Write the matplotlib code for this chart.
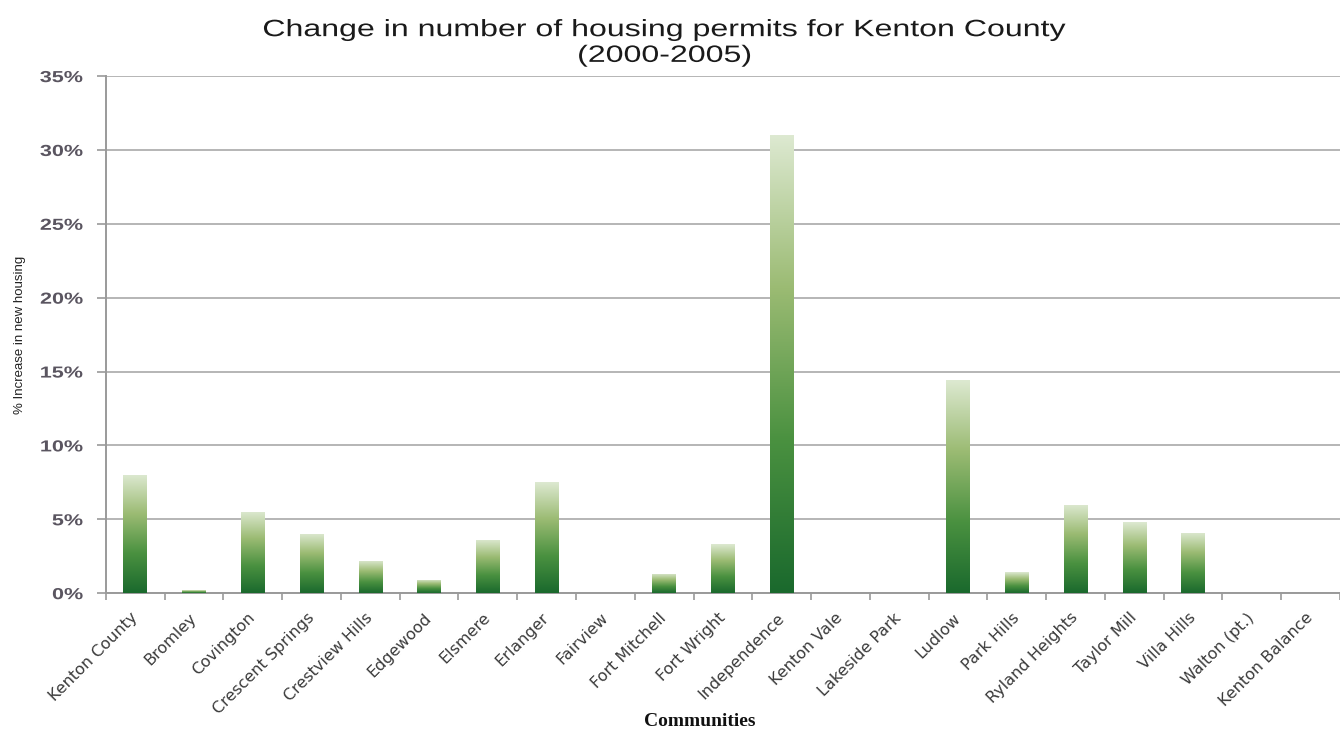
import matplotlib
matplotlib.use("Agg")
import matplotlib.pyplot as plt
import numpy as np
from matplotlib.colors import LinearSegmentedColormap
from matplotlib.patheffects import AbstractPathEffect
from matplotlib.transforms import Affine2D

communities = [
    "Kenton County", "Bromley", "Covington", "Crescent Springs", "Crestview Hills",
    "Edgewood", "Elsmere", "Erlanger", "Fairview", "Fort Mitchell", "Fort Wright",
    "Independence", "Kenton Vale", "Lakeside Park", "Ludlow", "Park Hills",
    "Ryland Heights", "Taylor Mill", "Villa Hills", "Walton (pt.)", "Kenton Balance",
]
pct_increase = [
    8.0, 0.2, 5.5, 4.0, 2.2,
    0.9, 3.6, 7.5, 0.0, 1.3, 3.3,
    31.0, 0.0, 0.0, 14.4, 1.4,
    6.0, 4.8, 4.1, 0.0, 0.0,
]
y_ticks = [0, 5, 10, 15, 20, 25, 30, 35]
y_tick_labels = [f"{v}%" for v in y_ticks]


class WideText(AbstractPathEffect):
    """Draw text widened horizontally about its left, centre or right edge."""

    def __init__(self, sx, anchor="center"):
        super().__init__()
        self.sx = sx
        self.anchor = anchor

    def draw_path(self, renderer, gc, tpath, affine, rgbFace=None):
        bb = tpath.get_extents(affine)
        cx = {"left": bb.x0, "center": 0.5 * (bb.x0 + bb.x1), "right": bb.x1}[self.anchor]
        t = affine + Affine2D().translate(-cx, 0).scale(self.sx, 1).translate(cx, 0)
        renderer.draw_path(gc, tpath, t, rgbFace)


fig = plt.figure(figsize=(13.4, 7.35), dpi=100)
ax = fig.add_axes([0.079, 0.193, 0.921, 0.7035])

x = np.arange(len(communities))
bars = ax.bar(x, pct_increase, width=0.4, color="none", edgecolor="none", zorder=3)

# vertical green gradient inside each bar: dark at the base, pale at the top
grad_cmap = LinearSegmentedColormap.from_list(
    "greens", ["#1a692d", "#4a9140", "#9bbb73", "#dde9d1"])
gradient = np.linspace(0, 1, 256).reshape(-1, 1)
for b in bars:
    h = b.get_height()
    if h <= 0:
        continue
    x0 = b.get_x()
    w = b.get_width()
    im = ax.imshow(gradient, cmap=grad_cmap, origin="lower", aspect="auto",
                   extent=[x0, x0 + w, 0, h], zorder=3, interpolation="bilinear")
    im.set_clip_path(b)

ax.set_xlim(-0.5, len(communities) - 0.5)
ax.set_ylim(0, 35)

ax.set_yticks(y_ticks)
ax.set_yticklabels(y_tick_labels, fontsize=11.5, fontweight="bold",
                   color="#5a5560", family="Liberation Sans")
for lbl in ax.get_yticklabels():
    lbl.set_path_effects([WideText(1.35, "right")])
ax.yaxis.grid(True, color="#b5b5b5", linewidth=1.4, zorder=0)
ax.set_axisbelow(True)

# category labels at bar centres, tick marks at category boundaries
ax.set_xticks(x)
ax.set_xticklabels(communities, rotation=45, ha="right", va="center",
                   rotation_mode="anchor", fontsize=11.5, color="#3a3a3a",
                   family="DejaVu Sans")
ax.tick_params(axis="x", which="major", length=0, pad=16)
ax.set_xticks(np.arange(len(communities) + 1) - 0.5, minor=True)
ax.tick_params(axis="x", which="minor", length=5, color="#9a9a9a", width=1.2)
ax.tick_params(axis="y", length=6.5, color="#9a9a9a", width=1.2, pad=10)

for side in ("top", "right"):
    ax.spines[side].set_visible(False)
for side in ("left", "bottom"):
    ax.spines[side].set_color("#9a9a9a")
    ax.spines[side].set_linewidth(1.4)

ax.set_ylabel("% Increase in new housing", fontsize=9.5, color="#222222",
              family="Liberation Sans", labelpad=18)

title_style = dict(ha="center", va="center", fontsize=17, color="#1a1a1a",
                   family="Liberation Sans")
t1 = fig.text(0.496, 0.959, "Change in number of housing permits for Kenton County",
              **title_style)
t2 = fig.text(0.496, 0.924, "(2000-2005)", **title_style)
for t in (t1, t2):
    t.set_path_effects([WideText(1.36, "center")])

fig.text(0.522, 0.018, "Communities", ha="center", va="center", fontsize=14,
         fontweight="bold", color="#111111", family="Liberation Serif")

fig.savefig("out.png", dpi=100, facecolor="white")
